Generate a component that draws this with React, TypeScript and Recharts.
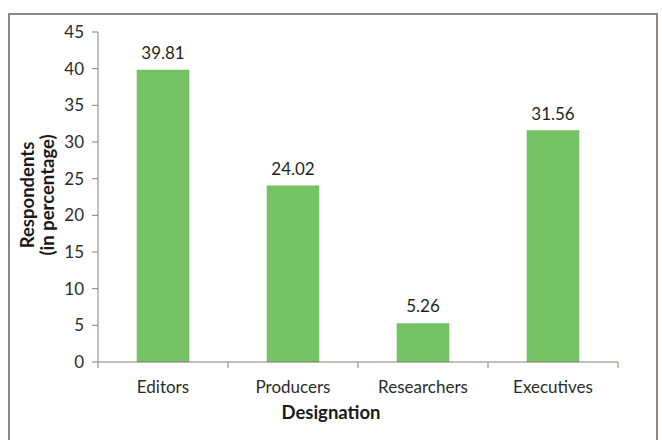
import React from 'react';
import { BarChart, Bar, XAxis, YAxis, LabelList, Label } from 'recharts';

const categories = ['Editors', 'Producers', 'Researchers', 'Executives'];
const respondents = [39.81, 24.02, 5.26, 31.56];
const yTicks = [0, 5, 10, 15, 20, 25, 30, 35, 40, 45];

const data = categories.map((name, i) => ({ name, value: respondents[i] }));

const FONT = 'Lato, "Open Sans", sans-serif';
const AXIS = '#8a7f78';
const CHART_W = 662;
const CHART_H = 440;
const MARGIN = { top: 32, right: 44, bottom: 0, left: 38 };
const Y_AXIS_W = 60;
const BAND = (CHART_W - MARGIN.left - MARGIN.right - Y_AXIS_W) / categories.length;

const CategoryTick = (props: any) => {
  const { x, y, payload, index } = props;
  const left = x - BAND / 2;
  const right = x + BAND / 2;
  return (
    <g>
      <line x1={left} x2={left} y1={y - 6} y2={y} stroke={AXIS} />
      {index === categories.length - 1 && <line x1={right} x2={right} y1={y - 6} y2={y} stroke={AXIS} />}
      <text x={x} y={y + 25} textAnchor="middle" fill="#2b2b2b" fontSize={17} fontFamily={FONT}>
        {payload.value}
      </text>
    </g>
  );
};

const YTitle = () => {
  const cy = 195;
  return (
    <g>
      <text
        x={27}
        y={cy}
        transform={`rotate(-90, 27, ${cy})`}
        textAnchor="middle"
        dominantBaseline="central"
        fontWeight="bold"
        fontSize={18.5}
        fill="#1a1a1a"
        fontFamily={FONT}
      >
        Respondents
      </text>
      <text
        x={47}
        y={cy}
        transform={`rotate(-90, 47, ${cy})`}
        textAnchor="middle"
        dominantBaseline="central"
        fontWeight="bold"
        fontSize={18.5}
        fill="#1a1a1a"
        fontFamily={FONT}
      >
        (in percentage)
      </text>
    </g>
  );
};

const XTitle = (props: any) => {
  const { viewBox } = props;
  const cx = viewBox.x + viewBox.width / 2 - 27;
  return (
    <text x={cx} y={419} textAnchor="middle" fontWeight="bold" fontSize={18.5} fill="#1a1a1a" fontFamily={FONT}>
      Designation
    </text>
  );
};

export default function App() {
  return (
    <div style={{ position: 'absolute', left: 0, top: 0, width: CHART_W, height: CHART_H, background: '#fff', overflow: 'hidden' }}>
      <div
        style={{
          position: 'absolute',
          left: 8,
          top: 13,
          width: 650,
          height: 440,
          border: '2px solid #8e8782',
          boxSizing: 'border-box',
        }}
      />
      <div style={{ position: 'absolute', left: 0, top: 0 }}>
        <BarChart width={CHART_W} height={CHART_H} data={data} margin={MARGIN} barCategoryGap="30%">
          <XAxis
            dataKey="name"
            height={78}
            stroke={AXIS}
            tickLine={false}
            tickSize={6}
            tickMargin={0}
            tick={<CategoryTick />}
            interval={0}
          >
            <Label content={<XTitle />} />
          </XAxis>
          <YAxis
            width={Y_AXIS_W}
            domain={[0, 45]}
            ticks={yTicks}
            stroke={AXIS}
            tickSize={6}
            tickMargin={8}
            tick={{ fill: '#2b2b2b', fontSize: 17, fontFamily: FONT }}
          >
            <Label content={<YTitle />} />
          </YAxis>
          <Bar dataKey="value" fill="#76c365" stroke="#6ab85a" strokeWidth={0.5} isAnimationActive={false}>
            <LabelList dataKey="value" position="top" offset={11} fill="#1f1f1f" fontSize={17} fontFamily={FONT} formatter={(v: any) => Number(v).toFixed(2)} />
          </Bar>
        </BarChart>
      </div>
    </div>
  );
}
